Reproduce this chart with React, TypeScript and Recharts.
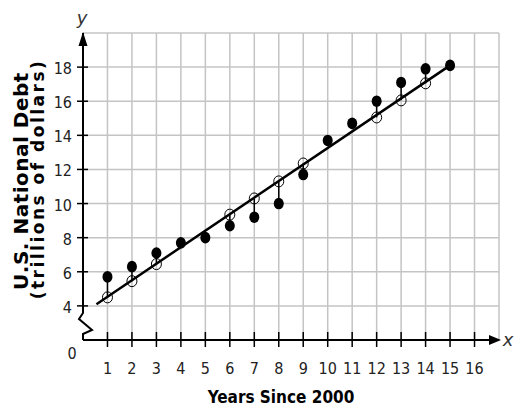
import { ScatterChart, Scatter, XAxis, YAxis, ReferenceLine, ReferenceDot, Customized } from "recharts";

// years since 2000 and actual debt (filled dots)
const years = [1, 2, 3, 4, 5, 6, 7, 8, 9, 10, 11, 12, 13, 14, 15];
const actualDebt = [5.7, 6.3, 7.1, 7.7, 8.0, 8.7, 9.2, 10.0, 11.7, 13.7, 14.7, 16.0, 17.1, 17.9, 18.1];

// predicted values shown as open circles
const predictedYears = [1, 2, 3, 6, 7, 8, 9, 12, 13, 14];
const predictedDebt = [4.5, 5.45, 6.45, 9.35, 10.3, 11.3, 12.35, 15.05, 16.05, 17.05];

// line of best fit end points
const fitStart = { x: 0.55, y: 4.1 };
const fitEnd = { x: 15, y: 18.1 };

const xTicks = [1, 2, 3, 4, 5, 6, 7, 8, 9, 10, 11, 12, 13, 14, 15, 16];
const yTicks = [4, 6, 8, 10, 12, 14, 16, 18];
const gridX = [1, 2, 3, 4, 5, 6, 7, 8, 9, 10, 11, 12, 13, 14, 15, 16, 17];
const gridY = [4, 6, 8, 10, 12, 14, 16, 18, 20];

const actualData = years.map((x, i) => ({ x, y: actualDebt[i] }));
const predictedData = predictedYears.map((x, i) => ({ x, y: predictedDebt[i] }));

const tickFont = "'DejaVu Sans Condensed', 'DejaVu Sans', sans-serif";

const XTick = (p: any) => (
  <g>
    <line x1={p.x} x2={p.x} y1={p.y - 8} y2={p.y + 7} stroke="#000" strokeWidth={1.5} />
    <text x={p.x} y={p.y + 34} textAnchor="middle" fontFamily={tickFont} fontSize={16} fill="#222">
      {p.payload.value}
    </text>
  </g>
);

const YTick = (p: any) => (
  <g>
    <line x1={p.x - 6} x2={p.x + 5} y1={p.y} y2={p.y} stroke="#000" strokeWidth={1.5} />
    <text x={p.x - 11} y={p.y + 7} textAnchor="end" fontFamily={tickFont} fontSize={16} fill="#222">
      {p.payload.value}
    </text>
  </g>
);

const FilledDot = (p: any) => <ellipse cx={p.cx} cy={p.cy} rx={5} ry={5.8} fill="#000" />;
const OpenDot = (p: any) => <ellipse cx={p.cx} cy={p.cy} rx={5} ry={5.5} fill="none" stroke="#000" strokeWidth={1} />;

const RightArrow = (p: any) => (
  <polygon points={`${p.cx - 10},${p.cy - 5} ${p.cx + 2},${p.cy} ${p.cx - 10},${p.cy + 5}`} fill="#000" />
);
const UpArrow = (p: any) => (
  <polygon points={`${p.cx - 4.5},${p.cy + 13} ${p.cx},${p.cy - 1} ${p.cx + 4.5},${p.cy + 13}`} fill="#000" />
);
const AxisBreak = (p: any) => (
  <path
    d={`M${p.cx},${p.cy} L${p.cx},${p.cy - 6} L${p.cx + 9},${p.cy - 10} L${p.cx - 4},${p.cy - 21} L${p.cx},${p.cy - 27}`}
    fill="none"
    stroke="#000"
    strokeWidth={2}
  />
);

const Titles = () => (
  <g>
    <text x={82} y={24} textAnchor="middle" fontFamily="'DejaVu Sans', sans-serif" fontStyle="italic" fontSize={18} fill="#333">y</text>
    <text x={508} y={346} textAnchor="middle" fontFamily="'DejaVu Sans', sans-serif" fontStyle="italic" fontSize={18} fill="#333">x</text>
    <text x={72} y={359} textAnchor="middle" fontFamily={tickFont} fontSize={16} fill="#222">0</text>
    <text
      transform="translate(28,181) rotate(-90)"
      textAnchor="middle"
      fontFamily="'DejaVu Sans', sans-serif"
      fontWeight="bold"
      fontSize={20}
      letterSpacing={0.5}
      fill="#000"
    >
      U.S. National Debt
    </text>
    <text
      transform="translate(44,179) rotate(-90)"
      textAnchor="middle"
      fontFamily="'DejaVu Sans', sans-serif"
      fontWeight="bold"
      fontSize={17}
      letterSpacing={2.5}
      fill="#000"
    >
      (trillions of dollars)
    </text>
    <text x={281} y={403} textAnchor="middle" fontFamily={tickFont} fontWeight="bold" fontSize={17} fill="#000">
      Years Since 2000
    </text>
  </g>
);

export default function App() {
  return (
    <div style={{ position: "absolute", left: 0, top: 0, width: 514, height: 410, background: "#fff" }}>
      <ScatterChart width={514} height={410} margin={{ top: 33, right: 15, bottom: 40, left: 23 }}>
        <XAxis
          type="number"
          dataKey="x"
          domain={[0, 17]}
          ticks={xTicks}
          allowDataOverflow
          axisLine={false}
          tickLine={false}
          tickSize={0}
          tickMargin={0}
          height={30}
          tick={<XTick />}
          interval={0}
        />
        <YAxis
          type="number"
          dataKey="y"
          domain={[2, 20]}
          ticks={yTicks}
          allowDataOverflow
          axisLine={false}
          tickLine={false}
          tickSize={0}
          tickMargin={0}
          width={60}
          tick={<YTick />}
          interval={0}
        />
        {gridX.map((v) => (
          <ReferenceLine key={`gx${v}`} x={v} stroke="#c4c4c4" strokeWidth={1.5} />
        ))}
        {gridY.map((v) => (
          <ReferenceLine key={`gy${v}`} y={v} stroke="#c4c4c4" strokeWidth={1.5} />
        ))}
        {predictedData.map((d) => (
          <ReferenceLine
            key={`r${d.x}`}
            segment={[{ x: d.x, y: d.y }, { x: d.x, y: actualDebt[years.indexOf(d.x)] }]}
            stroke="#000"
            strokeWidth={1.5}
          />
        ))}
        <ReferenceLine segment={[fitStart, fitEnd]} stroke="#000" strokeWidth={2.5} />
        <ReferenceLine segment={[{ x: 0, y: 2 }, { x: 17, y: 2 }]} stroke="#000" strokeWidth={2} ifOverflow="visible" />
        <ReferenceLine segment={[{ x: 0, y: 3.55 }, { x: 0, y: 20 }]} stroke="#000" strokeWidth={2} ifOverflow="visible" />
        <Scatter data={predictedData} shape={<OpenDot />} isAnimationActive={false} />
        <Scatter data={actualData} shape={<FilledDot />} isAnimationActive={false} />
        <ReferenceDot x={17} y={2} r={0} shape={<RightArrow />} ifOverflow="visible" />
        <ReferenceDot x={0} y={20} r={0} shape={<UpArrow />} ifOverflow="visible" />
        <ReferenceDot x={0} y={2} r={0} shape={<AxisBreak />} ifOverflow="visible" />
        <Customized component={<Titles />} />
      </ScatterChart>
    </div>
  );
}
